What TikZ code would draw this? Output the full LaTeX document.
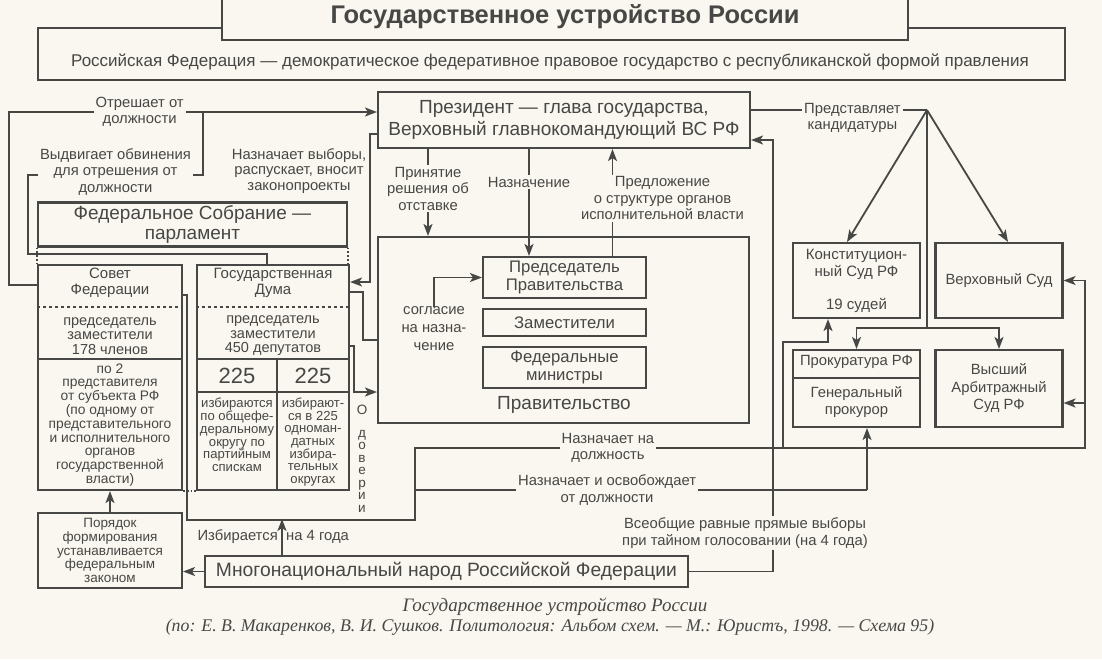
\documentclass[tikz,border=0pt]{standalone}
\usepackage{fontspec}
\setmainfont{Liberation Sans}
\newfontfamily\capfont{Liberation Serif}
\usepackage{tikz}
\usetikzlibrary{arrows.meta}
\definecolor{paper}{HTML}{F9F7EF}
\definecolor{ink}{HTML}{474745}
\newcommand{\fsz}[2]{\fontsize{#1}{#2}\selectfont}
\tikzstyle{block} = [rectangle, draw=ink, line width=2.1pt, fill=paper,
    align=center, inner sep=0pt, font=\fsz{14.8}{17.5}]
\tikzstyle{plaintext} = [align=center, inner sep=0pt, font=\fsz{14.8}{16.5}]
\tikzstyle{note} = [fill=paper, inner sep=2pt, align=center, font=\fsz{14.8}{16.5}]
\tikzstyle{source} = [align=center, inner sep=0pt, font=\capfont\itshape\fsz{17.8}{20}]
\tikzstyle{line} = [draw=ink, line width=1.8pt, -{Stealth[length=12pt, width=9pt, inset=3pt]}]
\tikzstyle{wire} = [draw=ink, line width=1.8pt]
\tikzstyle{divider} = [draw=ink, line width=1.8pt]

\begin{document}
\begin{tikzpicture}[x=1pt, y=-1pt, every node/.append style={text=ink}]
            \useasboundingbox (0,0) rectangle (1102,659);
            \fill [paper] (0,0) rectangle (1102,659);

            % Place nodes
            \node [block, minimum width=1027pt, minimum height=52pt] (rf) at (551.5,54) {};
            \node [plaintext, font=\fsz{17}{20}] (rftext) at (550,62) {Российская Федерация — демократическое федеративное правовое государство с республиканской формой правления};
            \node [block, minimum width=686pt, minimum height=46pt, font=\fsz{25.5}{28}\bfseries] (title) at (565,17) {Государственное устройство России};

            \node [block, minimum width=372pt, minimum height=56pt, font=\fsz{19}{22}] (pres) at (564,120) {Президент — глава государства,\\Верховный главнокомандующий ВС РФ};
            \node [block, minimum width=309pt, minimum height=44pt, font=\fsz{19}{19.5}] (fedsobr) at (192.5,224.5) {Федеральное Собрание —\\парламент};

            \node [block, minimum width=144pt, minimum height=225pt] (sovet) at (110,377.5) {};
            \node [plaintext, font=\fsz{15}{16.5}] (sovettitle) at (110,283) {Совет\\Федерации};
            \node [plaintext, font=\fsz{14.5}{14.5}] (sovetmid) at (110,336) {председатель\\заместители\\178 членов};
            \node [plaintext, font=\fsz{13.8}{13.8}] (sovetbot) at (110,425) {по 2\\представителя\\от субъекта РФ\\(по одному от\\представительного\\и исполнительного\\органов\\государственной\\власти)};

            \node [block, minimum width=152pt, minimum height=225pt] (duma) at (273,377.5) {};
            \node [plaintext, font=\fsz{15}{16.5}] (dumatitle) at (273,283) {Государственная\\Дума};
            \node [plaintext, font=\fsz{14.5}{14.5}] (dumamid) at (273,336) {председатель\\заместители\\450 депутатов};
            \node [plaintext, font=\fsz{22}{22}] (partyseats) at (237,376) {225};
            \node [plaintext, font=\fsz{22}{22}] (districtseats) at (313,376) {225};
            \node [plaintext, font=\fsz{13.1}{12.7}] (partytext) at (237,435) {избираются\\по общефе-\\деральному\\округу по\\партийным\\спискам};
            \node [plaintext, font=\fsz{13.1}{12.7}] (districttext) at (313,442) {избирают-\\ся в 225\\одноман-\\датных\\избира-\\тельных\\округах};

            \node [block, minimum width=371pt, minimum height=186pt] (gov) at (563.5,330) {};
            \node [block, minimum width=163pt, minimum height=41pt, font=\fsz{16.7}{18.5}] (chair) at (564.5,277.5) {Председатель\\Правительства};
            \node [block, minimum width=163pt, minimum height=27pt, font=\fsz{16.7}{18.5}] (deputies) at (564.5,322.5) {Заместители};
            \node [block, minimum width=163pt, minimum height=41pt, font=\fsz{16.7}{18.5}] (ministers) at (564.5,367.5) {Федеральные\\министры};
            \node [plaintext, font=\fsz{19}{20}] (govlabel) at (564,405) {Правительство};
            \node [plaintext, font=\fsz{14.8}{18}] (soglasie) at (434,329) {согласие\\на назна-\\чение};

            \node [block, minimum width=127pt, minimum height=75pt, font=\fsz{15}{17}] (konst) at (856.5,280.5) {Конституцион-\\ный Суд РФ\\[16pt]19 судей};
            \node [block, minimum width=127pt, minimum height=75pt] (verkh) at (999,280.5) {Верховный Суд};
            \node [block, minimum width=127pt, minimum height=77pt] (prok) at (856.5,388.5) {};
            \node [plaintext] (proktitle) at (856.5,362) {Прокуратура РФ};
            \node [plaintext, font=\fsz{14.8}{17.5}] (prokbot) at (856.5,402) {Генеральный\\прокурор};
            \node [block, minimum width=127pt, minimum height=77pt] (arb) at (999,388.5) {Высший\\Арбитражный\\Суд РФ};

            \node [block, minimum width=483pt, minimum height=31pt, font=\fsz{19.3}{22}] (people) at (446.5,571.5) {Многонациональный народ Российской Федерации};
            \node [block, minimum width=144pt, minimum height=75pt, font=\fsz{13.5}{13.8}] (poryadok) at (110,550.5) {Порядок\\формирования\\устанавливается\\федеральным\\законом};

            \node [plaintext, font=\fsz{14.8}{15.5}] (nvib) at (299,171) {Назначает выборы,\\распускает, вносит\\законопроекты};
            \node [plaintext, font=\fsz{13.5}{12.5}] (doverie) at (362,459) {О\\[10pt]д\\о\\в\\е\\р\\и\\и};

            \node [source, font=\capfont\itshape\fsz{19}{20}] (captitle) at (555,607) {Государственное устройство России};
            \node [source] (capsrc) at (550,627) {(по: Е. В. Макаренков, В. И. Сушков. Политология: Альбом схем. — М.: Юристъ, 1998. — Схема 95)};

            \coordinate (fan) at (927,110);
            \coordinate (split) at (927,328);
            \coordinate (jkonst) at (783,448);
            \coordinate (jprok) at (415,490);
            \coordinate (jarb) at (1085,403);

            % Draw frames inside boxes
            \draw [divider, dashed] (sovet.west |- 0,307) -- (sovet.east |- 0,307);
            \draw [divider] (sovet.west |- 0,359) -- (sovet.east |- 0,359);
            \draw [divider, dashed] (duma.west |- 0,307) -- (duma.east |- 0,307);
            \draw [divider] (duma.west |- 0,359) -- (duma.east |- 0,359);
            \draw [divider] (duma.west |- 0,392) -- (duma.east |- 0,392);
            \draw [divider] (277,359) -- (duma.south -| 277,0);
            \draw [divider] (prok.west |- 0,378) -- (prok.east |- 0,378);
            \draw [divider, dotted] (fedsobr.south west) -- (sovet.north west);
            \draw [divider, dotted] (fedsobr.south east) -- (fedsobr.south east |- duma.north);
            \draw [divider, dotted] (sovet.south east) -- (duma.south west);

            % Draw edges
            \path [line] (sovet.west |- 0,285) -- (9,285) -- (9,112) -- node [note, pos=0.355] (otreshaet) {Отрешает от\\должности} (pres.west |- 0,112);
            \path [wire] ([xshift=-6pt]duma.north) -- ++(0,-10) -| (28,175) -- node [note, yshift=3pt] (vydv) {Выдвигает обвинения\\для отрешения от\\должности} (203,175) -- (203,112);
            \path [line] (pres.west |- 0,134) -- (370,134) -- (370,282) -- (duma.east |- 0,282);
            \path [wire] (duma.east |- 0,292) -- (363,292) -- (363,340) -- (gov.west |- 0,340);
            \path [line] (duma.east |- 0,346) -- (354,346) -- (354,392) -- (gov.west |- 0,392);
            \path [line] (soglasie.north) |- (chair.west);

            \path [line] ([xshift=-136pt]pres.south) -- node [note, yshift=4pt] (otstavka) {Принятие\\решения об\\отставке} ([xshift=-136pt]pres.south |- gov.north);
            \path [line] ([xshift=-35pt]pres.south) -- node [note, pos=0.31] (naznach) {Назначение} ([xshift=-35pt]pres.south |- chair.north);
            \path [line] ([xshift=48pt]chair.north) -- node [note, pos=0.54, xshift=50pt] (predl) {Предложение\\о структуре органов\\исполнительной власти} ([xshift=48pt]chair.north |- pres.south);

            \path [wire] (pres.east |- fan) -- node [note, pos=0.576, yshift=-8pt] (predst) {Представляет\\кандидатуры} (fan);
            \path [line] (fan) -- ([xshift=-9.5pt]konst.north);
            \path [line] (fan) -- ([xshift=9pt]verkh.north);
            \path [wire] (fan) -- (split);
            \path [line] (split) -| (prok.north);
            \path [line] (split) -| (arb.north);

            \path [line] (people.east) -- (people.east -| 773,0) -- node [note, pos=0.089, xshift=-28pt] (vybory) {Всеобщие равные прямые выборы\\при тайном голосовании (на 4 года)} (773,140) -- (pres.east |- 0,140);

            \path [wire] (sovet.east |- 0,295) -- (187,295) -- (187,520) -| (jprok) -- (415,448) -- node [note, pos=0.288] (naznd) {Назначает на\\должность} (1085,448) -- (jarb);
            \path [line] (jarb) -- (arb.east |- jarb);
            \path [line] (jarb) |- (verkh.east);
            \path [line] (jkonst) |- (828,342) -- ([xshift=-28.5pt]konst.south);
            \path [wire] (jprok) -- node [note, pos=0.425] (naznosv) {Назначает и освобождает\\от должности} (867,490);
            \path [line] (867,490) -- ([xshift=10.5pt]prok.south);

            \path [line] (people.west) -- (poryadok.east |- people.west);
            \path [line] ([xshift=-164.5pt]people.north) -- node [left, font=\fsz{14.8}{16}] (izbir) {Избирается} node [right, font=\fsz{14.8}{16}] (na4) {на 4 года} ++(0,-36);
            \path [line] (poryadok.north) -- (sovet.south);

\end{tikzpicture}
\end{document}
